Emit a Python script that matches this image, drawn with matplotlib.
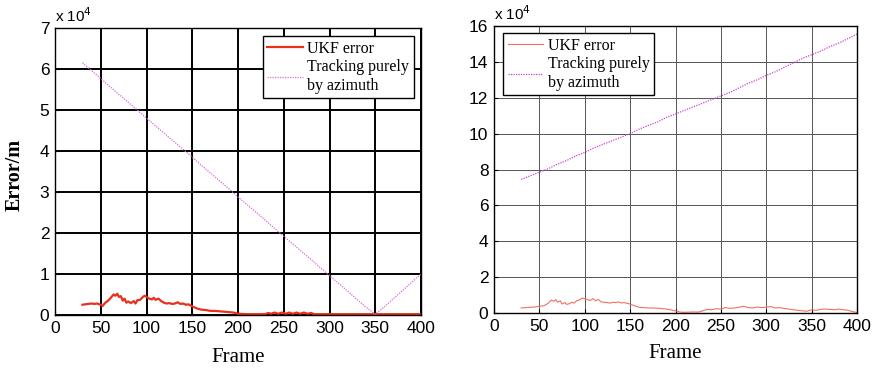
import matplotlib
matplotlib.use('Agg')
import matplotlib.pyplot as plt

# frames and errors (units of 1e4 m)
azimuth_frame = [30, 40, 50, 60, 70, 80, 90, 100, 110, 120, 130, 140, 150, 160, 170, 180, 190, 200,
                 210, 220, 230, 240, 250, 260, 270, 280, 290, 300, 310, 320, 330, 340, 350, 360,
                 370, 380, 390, 400]
azimuth_left = [6.15, 5.96, 5.77, 5.57, 5.38, 5.19, 5.00, 4.80, 4.61, 4.42, 4.23, 4.04, 3.85, 3.65,
                3.46, 3.27, 3.08, 2.88, 2.69, 2.50, 2.31, 2.11, 1.92, 1.73, 1.54, 1.35, 1.15, 0.96,
                0.77, 0.58, 0.38, 0.19, 0.02, 0.20, 0.40, 0.60, 0.80, 1.00]
azimuth_right = [7.45, 7.65, 7.85, 8.05, 8.30, 8.50, 8.75, 8.95, 9.20, 9.40, 9.60, 9.80, 10.00, 10.25,
                 10.45, 10.65, 10.90, 11.10, 11.30, 11.50, 11.70, 11.90, 12.10, 12.30, 12.55, 12.80,
                 13.00, 13.25, 13.45, 13.70, 13.95, 14.20, 14.40, 14.60, 14.85, 15.05, 15.30, 15.55]

ukf_left_frame = [30, 33, 36, 40, 43, 46, 50, 52, 55, 58, 61, 64, 66, 68, 70, 72, 74, 76, 78, 80, 83,
                  86, 88, 90, 93, 96, 98, 100, 103, 106, 108, 110, 113, 116, 119, 122, 125, 128, 131,
                  134, 137, 140, 143, 146, 150, 155, 160, 165, 170, 175, 180, 185, 190, 195, 200,
                  210, 220, 230, 233, 236, 240, 244, 248, 252, 256, 260, 264, 268, 272, 276, 280,
                  283, 290, 300, 320, 340, 350, 360, 380, 400]
ukf_left = [0.25, 0.26, 0.27, 0.28, 0.27, 0.28, 0.25, 0.22, 0.30, 0.35, 0.42, 0.50, 0.47, 0.52, 0.44,
            0.46, 0.35, 0.40, 0.30, 0.33, 0.29, 0.34, 0.28, 0.36, 0.37, 0.44, 0.47, 0.44, 0.40, 0.38,
            0.42, 0.37, 0.40, 0.34, 0.30, 0.28, 0.29, 0.27, 0.28, 0.31, 0.27, 0.28, 0.25, 0.26, 0.21,
            0.16, 0.13, 0.12, 0.10, 0.10, 0.09, 0.08, 0.07, 0.06, 0.03, 0.02, 0.02, 0.02, 0.05, 0.03,
            0.06, 0.03, 0.06, 0.03, 0.06, 0.03, 0.06, 0.03, 0.06, 0.03, 0.05, 0.02, 0.02, 0.02, 0.02,
            0.02, 0.02, 0.02, 0.02, 0.02]

ukf_right_frame = [30, 35, 40, 45, 50, 55, 60, 63, 66, 68, 70, 73, 75, 78, 80, 83, 86, 88, 91, 94, 97,
                   100, 103, 106, 109, 112, 115, 118, 121, 125, 128, 131, 134, 137, 140, 143, 146,
                   150, 155, 160, 165, 170, 180, 190, 200, 205, 210, 220, 225, 230, 235, 240, 245,
                   250, 255, 260, 265, 270, 275, 280, 285, 290, 295, 300, 305, 310, 315, 320, 325,
                   330, 335, 340, 345, 350, 355, 360, 365, 370, 375, 380, 385, 390, 395, 400]
ukf_right = [0.28, 0.30, 0.32, 0.33, 0.38, 0.40, 0.55, 0.72, 0.65, 0.75, 0.60, 0.68, 0.50, 0.58, 0.48,
             0.52, 0.60, 0.55, 0.68, 0.72, 0.83, 0.80, 0.75, 0.70, 0.80, 0.68, 0.76, 0.62, 0.60, 0.58,
             0.55, 0.60, 0.58, 0.62, 0.56, 0.58, 0.55, 0.50, 0.40, 0.32, 0.30, 0.28, 0.27, 0.22, 0.12,
             0.05, 0.04, 0.06, 0.05, 0.12, 0.20, 0.18, 0.24, 0.22, 0.30, 0.26, 0.28, 0.32, 0.38, 0.30,
             0.28, 0.33, 0.30, 0.32, 0.36, 0.28, 0.30, 0.25, 0.22, 0.18, 0.15, 0.12, 0.10, 0.18, 0.15,
             0.20, 0.22, 0.20, 0.18, 0.22, 0.18, 0.15, 0.08, 0.03]

SANS = 'Liberation Sans'
SERIF = 'Liberation Serif'
W, H = 876, 370

fig = plt.figure(figsize=(8.76, 3.70), dpi=100)
ax1 = fig.add_axes([55 / W, (H - 315) / H, 366 / W, 287 / H])
ax2 = fig.add_axes([494 / W, (H - 313) / H, 363 / W, 287 / H])

ax1.plot(ukf_left_frame, ukf_left, color='#e8301c', lw=1.6, label='UKF error')
ax1.plot(azimuth_frame, azimuth_left, color='#d070d0', lw=0.9, ls=(0, (1, 1)),
         label='Tracking purely\nby azimuth')
ax2.plot(ukf_right_frame, ukf_right, color='#f07068', lw=0.8, label='UKF error')
ax2.plot(azimuth_frame, azimuth_right, color='#cc44cc', lw=0.9, ls=(0, (1, 1)),
         label='Tracking purely\nby azimuth')

ax1.set_ylim(0, 7)
ax1.set_yticks(range(0, 8))
ax2.set_ylim(0, 16)
ax2.set_yticks(range(0, 17, 2))

for ax in (ax1, ax2):
    ax.set_xlim(0, 400)
    ax.set_xticks(range(0, 401, 50))
    ax.tick_params(direction='in', length=3, labelsize=12.5, pad=4)
    for lab in ax.get_xticklabels() + ax.get_yticklabels():
        lab.set_family(SANS)
    for s in ax.spines.values():
        s.set_linewidth(1.0)
    ax.text(0.0, 1.012, r'x 10$^4$', transform=ax.transAxes, fontsize=11,
            family=SANS, va='bottom', ha='left')

ax1.grid(True, color='black', lw=1.4)
ax2.grid(True, color='#555555', lw=0.7)
ax1.set_axisbelow(True)
ax2.set_axisbelow(True)

fig.text(238 / W, 1 - 357 / H, 'Frame', family=SERIF, fontsize=15, ha='center', va='center')
fig.text(675 / W, 1 - 354 / H, 'Frame', family=SERIF, fontsize=15, ha='center', va='center')
fig.text(15 / W, 1 - 175 / H, 'Error/m', family=SERIF, fontsize=14.5, fontweight='bold',
         rotation=90, ha='center', va='center')

leg_kw = dict(prop={'family': SERIF, 'size': 11.5}, fancybox=False, edgecolor='black',
              framealpha=1, handlelength=2.2, handletextpad=0.3, labelspacing=0.15,
              borderpad=0.3)
l1 = ax1.legend(loc='upper right', bbox_to_anchor=(1 - 7 / 366, 1 - 8 / 287), borderaxespad=0,
                **leg_kw)
l2 = ax2.legend(loc='upper left', bbox_to_anchor=(9 / 363, 1 - 7 / 287), borderaxespad=0,
                **leg_kw)
for l in (l1, l2):
    l.get_frame().set_linewidth(1.0)

fig.savefig('out.png', dpi=100)
